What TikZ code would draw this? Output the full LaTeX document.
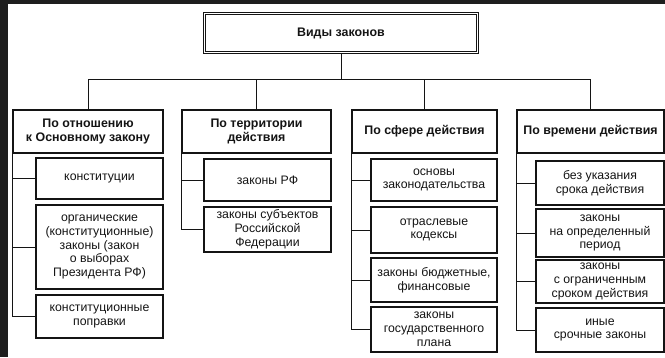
\documentclass[tikz,border=0pt]{standalone}
\usepackage{fontspec}
\setmainfont{Liberation Sans}
\usetikzlibrary{positioning}
\definecolor{ink}{HTML}{141414}
\definecolor{scanframe}{HTML}{1E1E1E}

\begin{document}
\begin{tikzpicture}[
    x=1pt, y=-1pt,
    % 1. Base style for all boxes
    base/.style={
        draw=ink, line width=1.1pt, text=ink,
        align=center, inner sep=1pt,
        font=\fontsize{12.3}{13.8}\selectfont
    },
    % 2. Box kinds
    headbox/.style={base, double, double distance=1.6pt, line width=0.8pt,
        minimum width=273pt, minimum height=39pt,
        font=\bfseries\fontsize{12.4}{14}\selectfont},
    groupbox/.style={base, minimum height=43pt,
        font=\bfseries\fontsize{12.4}{13.5}\selectfont},
    itembox/.style={base, minimum width=127pt},
    % 3. Connectors
    wire/.style={draw=ink, line width=0.9pt}
]
    % --- BACKGROUND ---
    \useasboundingbox (0,0) rectangle (665,357);
    \fill[scanframe] (0,0) rectangle (8,357);
    \fill[scanframe] (0,0) rectangle (665,4);

    % --- TOP ---
    \node[headbox] (kinds) at (341,33) {Виды законов};
    \coordinate (bus) at (0,79);

    % --- ROW 1 ---
    \node[groupbox, minimum width=150pt] (rel) at (88,131.5) {По отношению\\к Основному закону};
    \node[groupbox, minimum width=149pt] (terr) at (256.5,131.5) {По территории\\действия};
    \node[groupbox, minimum width=145pt] (sphere) at (424.5,131.5) {По сфере действия};
    \node[groupbox, minimum width=147pt] (time) at (590.5,131.5) {По времени действия};

    \draw[wire] (kinds) -- (kinds.south |- bus);
    \draw[wire] (rel) -- (rel.north |- bus) -| (time);
    \draw[wire] (terr) -- (terr.north |- bus);
    \draw[wire] (sphere) -- (sphere.north |- bus);

    % --- COLUMN 1 ---
    \node[itembox, minimum height=41pt] (const) at (99.5,178.5) {конституции};
    \node[itembox, minimum height=84pt] (organic) at (99.5,247) {органические\\(конституционные)\\законы (закон\\о выборах\\Президента РФ)};
    \node[itembox, minimum height=43pt] (amend) at (99.5,316.5) {конституционные\\поправки};

    \draw[wire] (rel.south west) |- (amend);
    \draw[wire] (rel.south west |- const) -- (const);
    \draw[wire] (rel.south west |- organic) -- (organic);

    % --- COLUMN 2 ---
    \node[itembox, minimum height=42pt] (rf) at (267.5,180) {законы РФ};
    \node[itembox, minimum height=45pt] (subj) at (267.5,229.5) {законы субъектов\\Российской\\Федерации};

    \draw[wire] (terr.south west) |- (subj);
    \draw[wire] (terr.south west |- rf) -- (rf);

    % --- COLUMN 3 ---
    \node[itembox, minimum width=126pt, minimum height=42pt] (basics) at (434,180) {основы\\законодательства};
    \node[itembox, minimum width=126pt, minimum height=46pt] (codes) at (434,230) {отраслевые\\кодексы};
    \node[itembox, minimum width=126pt, minimum height=44pt] (budget) at (434,280) {законы бюджетные,\\финансовые};
    \node[itembox, minimum width=126pt, minimum height=45pt] (plan) at (434,329.5) {законы\\государственного\\плана};

    \draw[wire] (sphere.south west) |- (plan);
    \draw[wire] (sphere.south west |- basics) -- (basics);
    \draw[wire] (sphere.south west |- codes) -- (codes);
    \draw[wire] (sphere.south west |- budget) -- (budget);

    % --- COLUMN 4 ---
    \node[itembox, minimum width=128pt, minimum height=44pt] (open) at (600,183) {без указания\\срока действия};
    \node[itembox, minimum width=128pt, minimum height=48pt] (period) at (600,233) {законы\\на определенный\\период};
    \node[itembox, minimum width=128pt, minimum height=43pt] (limited) at (600,281.5) {законы\\с ограниченным\\сроком действия};
    \node[itembox, minimum width=128pt, minimum height=44pt] (other) at (600,330) {иные\\срочные законы};

    \draw[wire] (time.south west) |- (other);
    \draw[wire] (time.south west |- open) -- (open);
    \draw[wire] (time.south west |- period) -- (period);
    \draw[wire] (time.south west |- limited) -- (limited);

\end{tikzpicture}
\end{document}
